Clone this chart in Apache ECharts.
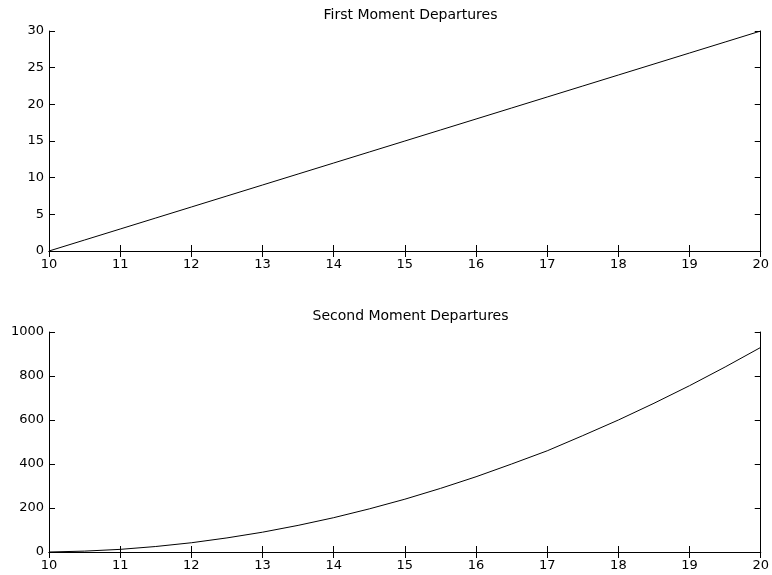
<!DOCTYPE html>
<html>
<head>
<meta charset="utf-8">
<script src="https://cdn.jsdelivr.net/npm/echarts@6/dist/echarts.min.js"></script>
<style>
  html, body { margin: 0; padding: 0; background: #fff; }
  #chart { width: 772px; height: 575px; }
</style>
</head>
<body>
<div id="chart"></div>
<script>
// Sample positions along x
const xValues = [10, 10.5, 11, 11.5, 12, 12.5, 13, 13.5, 14, 14.5, 15,
                 15.5, 16, 16.5, 17, 17.5, 18, 18.5, 19, 19.5, 20];
// First moment departures
const firstMoment = [0, 1.5, 3, 4.5, 6, 7.5, 9, 10.5, 12, 13.5, 15,
                     16.5, 18, 19.5, 21, 22.5, 24, 25.5, 27, 28.5, 30];
// Second moment departures
const secondMoment = [0, 4, 12, 25, 42, 64, 90, 121, 156, 196, 240,
                      289, 342, 400, 460, 529, 600, 676, 756, 841, 930];

const titles = ['First Moment Departures', 'Second Moment Departures'];

const font = 'DejaVu Sans, Arial, Helvetica, sans-serif';
const axisLine = { show: true, lineStyle: { color: '#000', width: 1 } };
const tickIn = { show: true, inside: true, length: 6, lineStyle: { color: '#000', width: 1 } };
const labelStyle = { color: '#000', fontSize: 13, fontFamily: font, formatter: v => String(v) };

const grids = [
  { left: 49, right: 10, top: 31, height: 220 },
  { left: 49, right: 10, top: 332, height: 220 }
];

function xAxes(gi) {
  return [
    { type: 'value', gridIndex: gi, min: 10, max: 20, interval: 1, position: 'bottom',
      axisLine, axisTick: tickIn, splitLine: { show: false },
      axisLabel: Object.assign({ margin: 7 }, labelStyle) },
    { type: 'value', gridIndex: gi, min: 10, max: 20, interval: 1, position: 'top',
      axisLine, axisTick: tickIn, splitLine: { show: false }, axisLabel: { show: false } }
  ];
}
function yAxes(gi, max, interval) {
  return [
    { type: 'value', gridIndex: gi, min: 0, max, interval, position: 'left',
      axisLine, axisTick: tickIn, splitLine: { show: false },
      axisLabel: Object.assign({ margin: 5 }, labelStyle) },
    { type: 'value', gridIndex: gi, min: 0, max, interval, position: 'right',
      axisLine, axisTick: tickIn, splitLine: { show: false }, axisLabel: { show: false } }
  ];
}

const titleStyle = { fontSize: 14, fontWeight: 'normal', color: '#000', fontFamily: font };

const chart = echarts.init(document.getElementById('chart'), null, { renderer: 'canvas' });
chart.setOption({
  backgroundColor: '#fff',
  animation: false,
  title: [
    { text: titles[0], left: 405.5, top: 3, textAlign: 'center', textStyle: titleStyle },
    { text: titles[1], left: 405.5, top: 304, textAlign: 'center', textStyle: titleStyle }
  ],
  grid: grids,
  xAxis: [...xAxes(0), ...xAxes(1)],
  yAxis: [...yAxes(0, 30, 5), ...yAxes(1, 1000, 200)],
  series: [
    { type: 'line', xAxisIndex: 0, yAxisIndex: 0, showSymbol: false,
      lineStyle: { color: '#000', width: 1 },
      data: xValues.map((x, i) => [x, firstMoment[i]]) },
    { type: 'line', xAxisIndex: 2, yAxisIndex: 2, showSymbol: false,
      lineStyle: { color: '#000', width: 1 },
      data: xValues.map((x, i) => [x, secondMoment[i]]) }
  ]
});
</script>
</body>
</html>
